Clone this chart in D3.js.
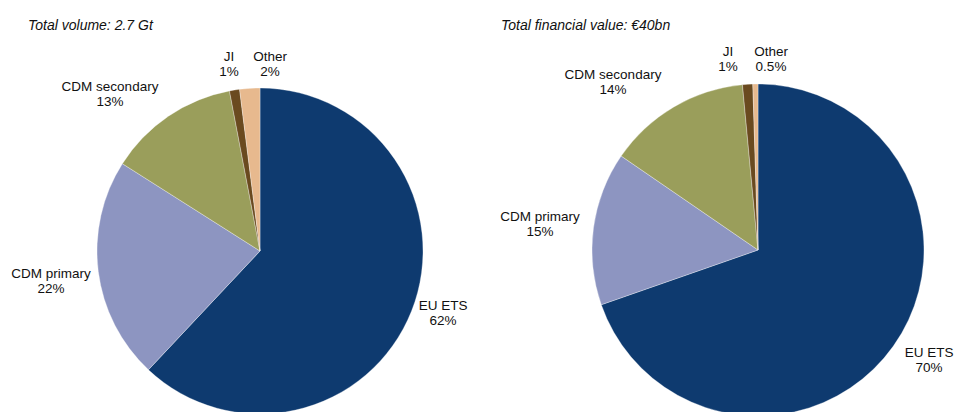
<!DOCTYPE html>
<html>
<head>
<meta charset="utf-8">
<script src="https://cdn.jsdelivr.net/npm/d3@7"></script>
<style>
  html, body { margin: 0; padding: 0; background: #ffffff; }
  svg { display: block; }
  text { font-family: "Liberation Sans", Arial, sans-serif; fill: #111; }
</style>
</head>
<body>
<svg id="chart" width="956" height="412"></svg>
<script>
// Market segments, listed clockwise from 12 o'clock
const segments = ["EU ETS", "CDM primary", "CDM secondary", "JI", "Other"];

// Share of total traded volume (%)
const volumeShares = [62, 22, 13, 1, 2];
// Share of total financial value (%)
const valueShares = [70, 15, 14, 1, 0.5];

const volumeTitle = "Total volume: 2.7 Gt";
const valueTitle = "Total financial value: €40bn";

const segmentColors = ["#0e3a6f", "#8d95c1", "#9a9e5b", "#6a4a1f", "#e7b98e"];

// Layout of the two pies and their label blocks (offsets from each pie centre)
const layouts = [
  {
    title: volumeTitle, values: volumeShares,
    titleX: 28, titleY: 30,
    cx: 260, cy: 251, r: 163,
    labelOffsets: [[183, 63], [-209, 31], [-150, -156], [-31, -186], [10, -186]]
  },
  {
    title: valueTitle, values: valueShares,
    titleX: 501, titleY: 30,
    cx: 758, cy: 250, r: 166,
    labelOffsets: [[171, 111], [-218, -25], [-145, -167], [-30, -190], [13, -190]]
  }
];

const svg = d3.select("#chart");
const color = d3.scaleOrdinal().domain(segments).range(segmentColors);

const pie = d3.pie()
  .sort(null)
  .value(d => d.value)
  .startAngle(0)
  .endAngle(2 * Math.PI);

layouts.forEach(cfg => {
  const rows = segments.map((name, i) => ({ name, value: cfg.values[i], offset: cfg.labelOffsets[i] }));

  svg.append("text")
    .attr("x", cfg.titleX)
    .attr("y", cfg.titleY)
    .attr("font-size", 14)
    .attr("font-style", "italic")
    .text(cfg.title);

  const g = svg.append("g").attr("transform", `translate(${cfg.cx},${cfg.cy})`);
  const arc = d3.arc().innerRadius(0).outerRadius(cfg.r);

  g.selectAll("path")
    .data(pie(rows))
    .join("path")
    .attr("d", arc)
    .attr("fill", d => color(d.data.name))
    .attr("stroke", "#ffffff")
    .attr("stroke-opacity", 0.4)
    .attr("stroke-width", 0.8);

  const labels = g.selectAll("g.label")
    .data(rows)
    .join("g")
    .attr("class", "label")
    .attr("transform", d => `translate(${d.offset[0]},${d.offset[1]})`);

  labels.append("text")
    .attr("text-anchor", "middle")
    .attr("dominant-baseline", "middle")
    .attr("y", -7.5)
    .attr("font-size", 13.5)
    .text(d => d.name);

  labels.append("text")
    .attr("text-anchor", "middle")
    .attr("dominant-baseline", "middle")
    .attr("y", 7.5)
    .attr("font-size", 13.5)
    .text(d => d.value + "%");
});
</script>
</body>
</html>
